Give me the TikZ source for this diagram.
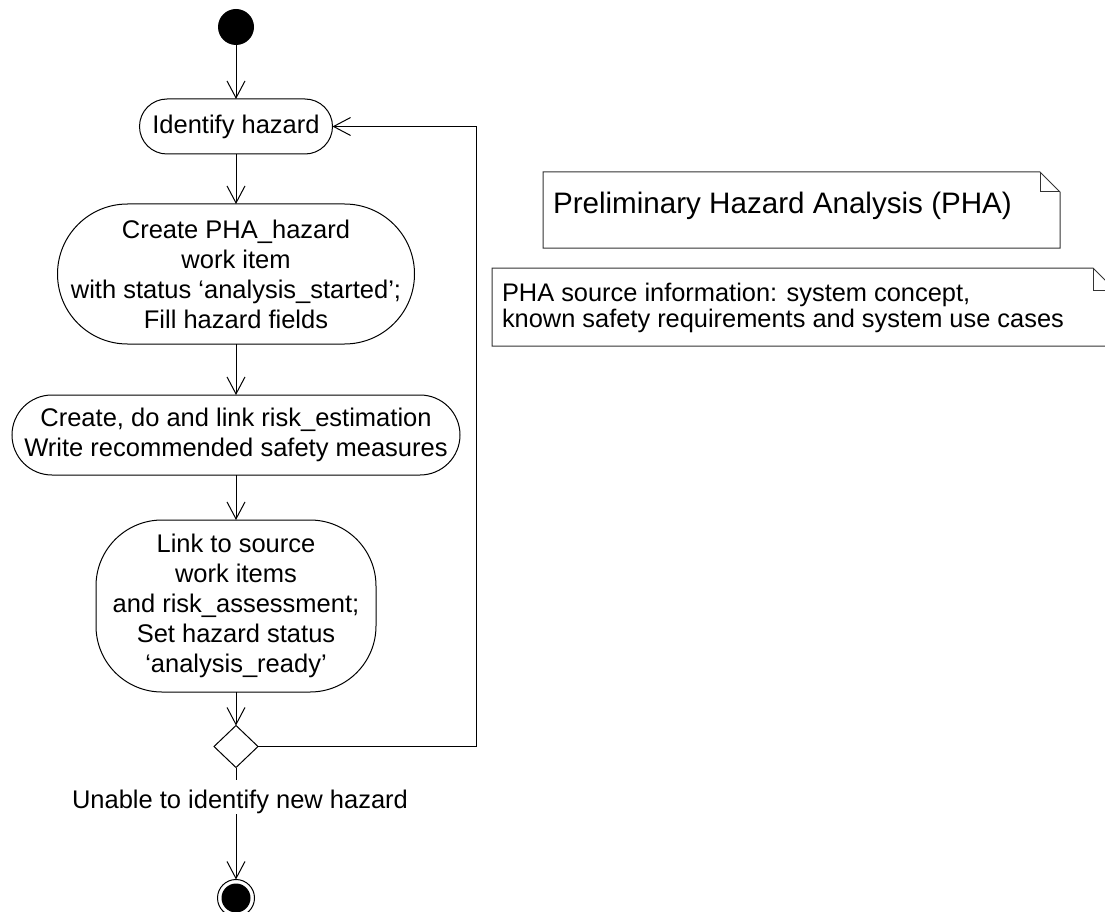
\documentclass[tikz,border=0pt]{standalone}
\usepackage{fontspec}
\setmainfont{Liberation Sans}
\usetikzlibrary{arrows.meta,shapes.geometric}

\begin{document}
\begin{tikzpicture}[x=1pt,y=-1pt,
  every node/.style={inner sep=0pt, outer sep=0pt},
  flow/.style={line width=1pt, -{Straight Barb[length=17pt,width=18pt,line width=1pt]}},
  action/.style={draw, line width=1pt, rectangle, align=center, fill=white,
    font=\fontsize{25.5}{30}\selectfont},
  notebox/.style={draw=black!80, line width=1pt, fill=white, line join=miter},
  notefold/.style={draw=black!80, line width=1pt},
  guard/.style={fill=white, font=\fontsize{25.5}{30}\selectfont,
    text height=28pt, text depth=6pt, inner xsep=2pt, inner ysep=0pt}
]
\useasboundingbox (0,0) rectangle (1105,912);
\fill[white] (0,0) rectangle (1105,912);
\clip (0,0) rectangle (1105,912);

% activity flow
\node[circle, fill=black, minimum size=36pt] (start) at (236,27) {};
\node[action, minimum width=193pt, minimum height=55pt, rounded corners=27.5pt]
  (identify) at (236,126.5) {Identify hazard};
\node[action, minimum width=357pt, minimum height=140pt, rounded corners=70pt]
  (create) at (236,274) {Create PHA\_hazard\\work item\\with status ‘analysis\_started’;\\Fill hazard fields};
\node[action, minimum width=448pt, minimum height=80pt, rounded corners=40pt]
  (risk) at (236,435) {Create, do and link risk\_estimation\\Write recommended safety measures};
\node[action, minimum width=280pt, minimum height=172pt, rounded corners=66pt]
  (link) at (236,606) {Link to source\\work items\\and risk\_assessment;\\Set hazard status\\‘analysis\_ready’};
\node[diamond, draw, line width=1pt, fill=white, minimum width=44pt, minimum height=42pt]
  (dec) at (236,746.5) {};
\node[circle, draw, line width=1pt, fill=white, minimum size=37pt] (final) at (236,898) {};
\fill (final.center) circle (14.5pt);

\draw[flow] (start) -- (identify);
\draw[flow] (identify) -- (create);
\draw[flow] (create) -- (risk);
\draw[flow] (risk) -- (link);
\draw[flow] (link) -- (dec);
\draw[flow] (dec) -- (final);
\node[guard] (guardtext) at (240,797) {Unable to identify new hazard};

% loop back to the first action
\coordinate (loopx) at (476,0);
\draw[flow] (dec.east) -- (dec.east -| loopx) |- (identify.east);

% notes
\draw[notebox] (543,172) -- (1040,172) -- (1060,192) -- (1060,248) -- (543,248) -- cycle;
\draw[notefold] (1040,172) -- (1040,192) -- (1060,192);
\node[anchor=base west, font=\fontsize{29.6}{34}\selectfont] (phatitle) at (553,213)
  {Preliminary Hazard Analysis (PHA)};

\draw[notebox] (492,268) -- (1093,268) -- (1115,290) -- (1115,346) -- (492,346) -- cycle;
\draw[notefold] (1093,268) -- (1093,290) -- (1115,290);
\node[anchor=north west, align=left, font=\fontsize{25.4}{26}\selectfont] (phasource) at (502,283.5)
  {PHA source information: system concept,\\known safety requirements and system use cases};
\end{tikzpicture}
\end{document}
